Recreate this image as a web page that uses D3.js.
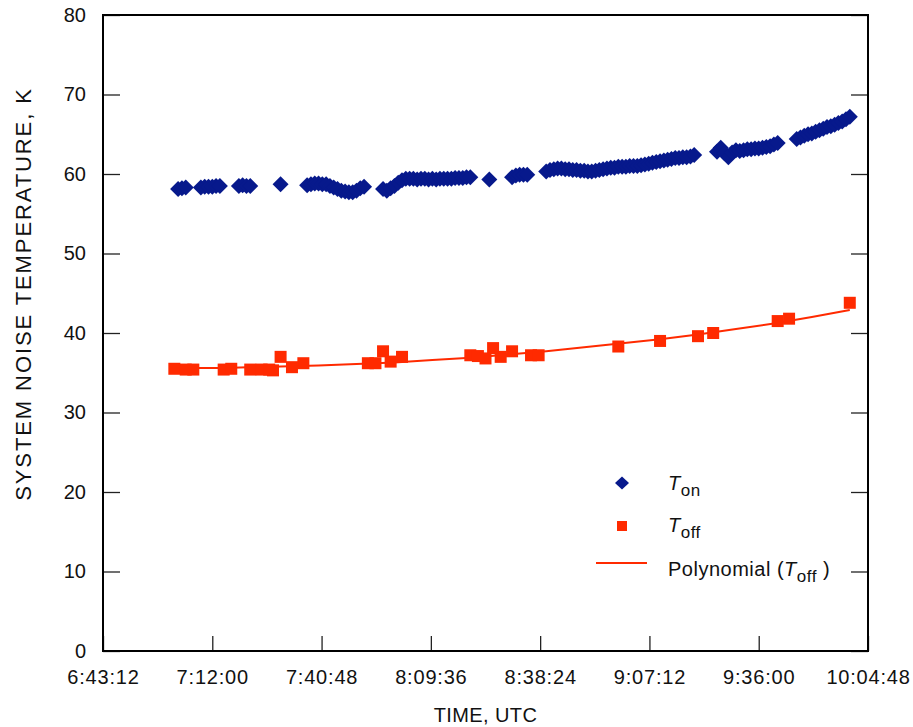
<!DOCTYPE html>
<html>
<head>
<meta charset="utf-8">
<script src="https://cdn.jsdelivr.net/npm/d3@7"></script>
<style>
  body { margin: 0; background: #fff; }
  svg text { font-family: "Liberation Sans", Arial, Helvetica, sans-serif; fill: #111; }
</style>
</head>
<body>
<div id="chart"></div>
<script>
// T_on readings (UTC clock time, kelvin)
const onTimes = [
  "7:03", "7:04", "7:05",
  "7:09", "7:10", "7:11", "7:12", "7:13", "7:14",
  "7:19", "7:20", "7:21", "7:22",
  "7:30",
  "7:37", "7:38", "7:39", "7:40", "7:41", "7:42", "7:43", "7:44", "7:45", "7:46", "7:47", "7:48", "7:49", "7:50", "7:51", "7:52",
  "7:57", "7:58", "7:59", "8:00", "8:01", "8:02", "8:03", "8:04", "8:05", "8:06", "8:07", "8:08", "8:09", "8:10", "8:11", "8:12", "8:13", "8:14", "8:15", "8:16", "8:17", "8:18", "8:19", "8:20",
  "8:25",
  "8:31", "8:32", "8:33", "8:34", "8:35",
  "8:40", "8:41", "8:42", "8:43", "8:44", "8:45", "8:46", "8:47", "8:48", "8:49", "8:50", "8:51", "8:52", "8:53", "8:54", "8:55", "8:56", "8:57", "8:58", "8:59",
  "9:00", "9:01", "9:02", "9:03", "9:04", "9:05", "9:06", "9:07", "9:08", "9:09", "9:10", "9:11", "9:12", "9:13", "9:14", "9:15", "9:16", "9:17", "9:18", "9:19",
  "9:25", "9:26", "9:27", "9:28", "9:29", "9:30", "9:31", "9:32", "9:33", "9:34", "9:35", "9:36", "9:37", "9:38", "9:39", "9:40", "9:41",
  "9:46", "9:47", "9:48", "9:49", "9:50", "9:51", "9:52", "9:53", "9:54", "9:55", "9:56", "9:57", "9:58", "9:59", "10:00"
];
const onTemps = [
  58.1, 58.2, 58.3,
  58.3, 58.4, 58.4, 58.4, 58.5, 58.5,
  58.5, 58.6, 58.5, 58.5,
  58.7,
  58.6, 58.7, 58.8, 58.8, 58.7, 58.7, 58.5, 58.3, 58.1, 57.9, 57.8, 57.7, 57.7, 57.9, 58.2, 58.4,
  58.1, 57.9, 58.2, 58.5, 58.9, 59.2, 59.4, 59.4, 59.4, 59.3, 59.4, 59.4, 59.3, 59.4, 59.3, 59.4, 59.4, 59.4, 59.4, 59.5, 59.5, 59.5, 59.6, 59.6,
  59.3,
  59.6, 59.8, 59.9, 59.9, 59.9,
  60.3, 60.5, 60.6, 60.7, 60.7, 60.6, 60.6, 60.5, 60.5, 60.4, 60.4, 60.3, 60.3, 60.4, 60.5, 60.6, 60.7, 60.8, 60.8, 60.9,
  60.9, 60.9, 61.0, 61.0, 61.0, 61.1, 61.2, 61.3, 61.4, 61.5, 61.6, 61.7, 61.8, 61.9, 62.0, 62.0, 62.1, 62.1, 62.2, 62.4,
  62.8, 63.3, 62.6, 62.1, 62.7, 63.0, 62.9, 63.0, 63.1, 63.1, 63.2, 63.2, 63.3, 63.4, 63.5, 63.7, 63.9,
  64.4, 64.6, 64.8, 65.0, 65.1, 65.3, 65.5, 65.7, 65.9, 66.0, 66.2, 66.4, 66.6, 66.9, 67.2
];

// T_off readings
const offTimes = [
  "7:02", "7:05", "7:07", "7:15", "7:17", "7:22", "7:25", "7:27", "7:28", "7:30", "7:33", "7:36",
  "7:53", "7:55", "7:57", "7:59", "8:02", "8:20", "8:22", "8:24", "8:26", "8:28", "8:31", "8:36", "8:38",
  "8:59", "9:10", "9:20", "9:24", "9:41", "9:44", "10:00"
];
const offTemps = [
  35.5, 35.4, 35.4, 35.4, 35.5, 35.4, 35.4, 35.4, 35.3, 37.0, 35.7, 36.2,
  36.2, 36.2, 37.7, 36.4, 37.0, 37.2, 37.1, 36.8, 38.1, 37.0, 37.7, 37.2, 37.2,
  38.3, 39.0, 39.6, 40.0, 41.5, 41.8, 43.8
];

// polynomial trendline of T_off
const fitTimes = ["7:01", "7:15", "7:30", "7:40", "7:50", "8:00", "8:10", "8:20", "8:30", "8:40", "8:50", "9:00", "9:10", "9:20", "9:30", "9:40", "9:50", "10:00"];
const fitTemps = [35.6, 35.6, 35.8, 35.9, 36.1, 36.3, 36.6, 36.9, 37.3, 37.7, 38.2, 38.7, 39.2, 39.8, 40.5, 41.2, 42.0, 42.9];

const xTickLabels = ["6:43:12", "7:12:00", "7:40:48", "8:09:36", "8:38:24", "9:07:12", "9:36:00", "10:04:48"];
const yTickValues = [0, 10, 20, 30, 40, 50, 60, 70, 80];

const width = 913, height = 727;
const plot = { left: 103, right: 868, top: 15, bottom: 651 };
const blue = "#07198c", red = "#ff2a00";

function secs(str) {
  const p = str.split(":").map(Number);
  return p[0] * 3600 + p[1] * 60 + (p[2] || 0);
}
function clock(s) {
  const h = Math.floor(s / 3600), m = Math.floor(s % 3600 / 60), ss = s % 60;
  return `${h}:${String(m).padStart(2, "0")}:${String(ss).padStart(2, "0")}`;
}

const onData = onTimes.map((t, i) => ({ t: secs(t), v: onTemps[i] }));
const offData = offTimes.map((t, i) => ({ t: secs(t), v: offTemps[i] }));
const fitData = fitTimes.map((t, i) => ({ t: secs(t), v: fitTemps[i] }));
const xTicks = xTickLabels.map(secs);

const x = d3.scaleLinear()
  .domain([xTicks[0], xTicks[xTicks.length - 1]])
  .range([plot.left, plot.right]);
const y = d3.scaleLinear().domain([0, 80]).range([plot.bottom, plot.top]);

const svg = d3.select("#chart").append("svg")
  .attr("width", width)
  .attr("height", height);

// axes, ticks pointing into the plot
const xAxis = svg.append("g")
  .attr("transform", `translate(0,${plot.bottom})`)
  .call(d3.axisBottom(x).tickValues(xTicks).tickFormat(clock).tickSize(-15).tickPadding(19));
const yAxis = svg.append("g")
  .attr("transform", `translate(${plot.left},0)`)
  .call(d3.axisLeft(y).tickValues(yTickValues).tickSize(-17).tickPadding(17));
const yAxisRight = svg.append("g")
  .attr("transform", `translate(${plot.right},0)`)
  .call(d3.axisRight(y).tickValues(yTickValues).tickSize(-17).tickFormat(""));

[xAxis, yAxis, yAxisRight].forEach(g => {
  g.select(".domain").remove();
  g.selectAll(".tick line").attr("stroke", "#222").attr("stroke-width", 1.3);
  g.selectAll("text").style("font-size", "20px").attr("fill", "#111");
});
xAxis.selectAll("text").style("letter-spacing", "0.8px");

svg.append("rect")
  .attr("x", plot.left)
  .attr("y", plot.top)
  .attr("width", plot.right - plot.left)
  .attr("height", plot.bottom - plot.top)
  .attr("fill", "none")
  .attr("stroke", "#000")
  .attr("stroke-width", 2);

// axis titles
svg.append("text")
  .attr("x", (plot.left + plot.right) / 2)
  .attr("y", 722)
  .attr("text-anchor", "middle")
  .style("font-size", "20px")
  .style("letter-spacing", "0.4px")
  .text("TIME, UTC");

svg.append("text")
  .attr("transform", "translate(31,294) rotate(-90)")
  .attr("text-anchor", "middle")
  .style("font-size", "22px")
  .style("letter-spacing", "1.9px")
  .text("SYSTEM NOISE TEMPERATURE, K");

// marks
const diamond = "M0,-8L8,0L0,8L-8,0Z";

svg.append("g").selectAll("path")
  .data(onData)
  .enter()
  .append("path")
  .attr("d", diamond)
  .attr("transform", d => `translate(${x(d.t)},${y(d.v)})`)
  .attr("fill", blue);

const line = d3.line()
  .x(d => x(d.t))
  .y(d => y(d.v));

svg.append("path")
  .datum(fitData)
  .attr("fill", "none")
  .attr("stroke", red)
  .attr("stroke-width", 2)
  .attr("d", line);

const sq = 12;
svg.append("g").selectAll("rect")
  .data(offData)
  .enter()
  .append("rect")
  .attr("x", d => x(d.t) - sq / 2)
  .attr("y", d => y(d.v) - sq / 2)
  .attr("width", sq)
  .attr("height", sq)
  .attr("fill", red);

// legend
const legend = svg.append("g");
legend.append("path")
  .attr("d", "M0,-6.5L7,0L0,6.5L-7,0Z")
  .attr("transform", "translate(622,483)")
  .attr("fill", blue);
legend.append("rect")
  .attr("x", 617).attr("y", 521)
  .attr("width", 10).attr("height", 10)
  .attr("fill", red);
legend.append("line")
  .attr("x1", 596).attr("x2", 647)
  .attr("y1", 563).attr("y2", 563)
  .attr("stroke", red)
  .attr("stroke-width", 2);

function subLabel(yPos, prefix, sub, suffix) {
  const t = legend.append("text")
    .attr("x", 668)
    .attr("y", yPos)
    .style("font-size", "20px")
    .style("letter-spacing", "0.5px");
  if (prefix) t.append("tspan").text(prefix);
  t.append("tspan").style("font-style", "italic").text("T");
  t.append("tspan").attr("dy", 6).style("font-size", "17px").text(sub);
  if (suffix) t.append("tspan").attr("dy", -6).text(suffix);
}
subLabel(490, null, "on", null);
subLabel(532, null, "off", null);
subLabel(576, "Polynomial (", "off", " )");
</script>
</body>
</html>
